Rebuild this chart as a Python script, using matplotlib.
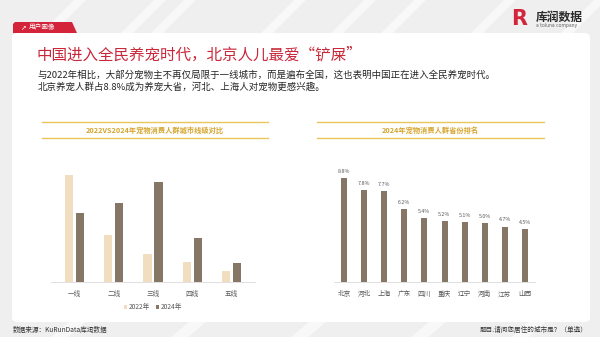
import matplotlib
matplotlib.use("Agg")
import matplotlib.pyplot as plt
from matplotlib.patches import Polygon, FancyBboxPatch
from matplotlib.lines import Line2D

plt.rcParams["font.family"] = ["Noto Sans CJK SC", "DejaVu Sans"]

# data
tiers = ["一线", "二线", "三线", "四线", "五线"]
share_2022 = [32.5, 14.2, 8.5, 6.0, 3.3]
share_2024 = [21.0, 24.0, 30.3, 13.3, 5.8]

provinces = ["北京", "河北", "上海", "广东", "四川", "重庆", "辽宁", "河南", "江苏", "山西"]
province_share = [8.8, 7.8, 7.7, 6.2, 5.4, 5.2, 5.1, 5.0, 4.7, 4.5]

RED = "#C9283A"
GOLD = "#D6A52E"
LINE_GOLD = "#E8C65A"
BROWN = "#857665"
BEIGE = "#F1DDBF"
GREY = "#5A5A5A"

W, H = 600, 337
fig = plt.figure(figsize=(W / 100, H / 100), dpi=100, facecolor="#EFEFEF")


def fx(x):
    return x / W


def fy(y):
    return 1 - y / H


def rect(x0, y0, x1, y1):
    return [fx(x0), fy(y1), fx(x1) - fx(x0), fy(y0) - fy(y1)]


# faint diagonal stripes in the background
for x0 in [40, 150, 260, 380, 470, 560, 120, 330]:
    fig.add_artist(Line2D([fx(x0), fx(x0 + 40)], [fy(40), fy(0)],
                          color="white", lw=6, alpha=0.6, zorder=0))
for x0 in [60, 180, 300, 420, 520]:
    fig.add_artist(Line2D([fx(x0), fx(x0 + 25)], [fy(337), fy(315)],
                          color="white", lw=8, alpha=0.6, zorder=0))

# white card
fig.add_artist(FancyBboxPatch((fx(12), fy(322)), fx(578), fy(0) - fy(289),
                              boxstyle="round,pad=0,rounding_size=0.012",
                              facecolor="white", edgecolor="none", zorder=1))

# red tab
fig.add_artist(Polygon([(fx(13), fy(33)), (fx(13), fy(24)), (fx(15), fy(22)),
                        (fx(72), fy(22)), (fx(77), fy(33))],
                       closed=True, facecolor="#D3243A", edgecolor="none", zorder=2))
fig.text(fx(20), fy(27.5), "➚", color="white", fontsize=5, va="center",
         family=["DejaVu Sans"], zorder=3)
fig.text(fx(29), fy(27.5), "用户画像", color="white", fontsize=4.8, va="center", zorder=3)

# logo
fig.text(fx(511), fy(19), "R", color="#D3243A", fontsize=15, fontweight="bold",
         va="center", ha="left", family=["DejaVu Sans"], zorder=3)
fig.text(fx(536), fy(17), "库润数据", color="#2B2B2B", fontsize=8.5, fontweight="bold",
         va="center", ha="left", zorder=3)
fig.text(fx(536), fy(26), "a toluna company", color="#666666", fontsize=3.3,
         va="center", ha="left", family=["DejaVu Sans"], zorder=3)

# headline
fig.text(fx(37), fy(55), "中国进入全民养宠时代，北京人儿最爱“铲屎”", color=RED,
         fontsize=11.2, va="center", ha="left", zorder=3)
fig.text(fx(38), fy(75), "与2022年相比，大部分宠物主不再仅局限于一线城市，而是遍布全国，这也表明中国正在进入全民养宠时代。",
         color="#262626", fontsize=6.8, va="center", ha="left", zorder=3)
fig.text(fx(38), fy(87), "北京养宠人群占8.8%成为养宠大省，河北、上海人对宠物更感兴趣。",
         color="#262626", fontsize=6.8, va="center", ha="left", zorder=3)

# title bands
for (x0, x1, title) in [(42, 268, "2022VS2024年宠物消费人群城市线级对比"),
                        (317, 544, "2024年宠物消费人群省份排名")]:
    for yy in (122, 138):
        fig.add_artist(Line2D([fx(x0), fx(x1)], [fy(yy), fy(yy)],
                              color=LINE_GOLD, lw=1.0, zorder=3))
    fig.text(fx((x0 + x1) / 2), fy(130), title, color=GOLD, fontsize=5.2,
             fontweight="bold", ha="center", va="center", zorder=3)

# left chart
ax1 = fig.add_axes(rect(51, 150, 255, 282))
ax1.set_zorder(4)
x = range(len(tiers))
ax1.bar([i - 0.14 for i in x], share_2022, width=0.21, color=BEIGE, label="2022年")
ax1.bar([i + 0.14 for i in x], share_2024, width=0.21, color=BROWN, label="2024年")
ax1.set_xlim(-0.6, 4.6)
ax1.set_ylim(0, 40)
ax1.set_xticks(list(x))
ax1.set_xticklabels(tiers)

# right chart
ax2 = fig.add_axes(rect(334, 150, 535, 282))
ax2.set_zorder(4)
xp = range(len(provinces))
ax2.bar(list(xp), province_share, width=0.3, color=BROWN)
for i, v in zip(xp, province_share):
    ax2.text(i, v + 0.35, f"{v:.1f}%", ha="center", va="bottom", fontsize=3.8, color=GREY)
ax2.set_xlim(-0.5, 9.5)
ax2.set_ylim(0, 11.2)
ax2.set_xticks(list(xp))
ax2.set_xticklabels(provinces)

for ax in (ax1, ax2):
    ax.set_facecolor("none")
    for s in ("top", "right", "left"):
        ax.spines[s].set_visible(False)
    ax.spines["bottom"].set_color("#D9D9D9")
    ax.spines["bottom"].set_linewidth(0.6)
    ax.set_yticks([])
    ax.tick_params(axis="x", length=0, pad=6, labelsize=4.8, labelcolor=GREY)

ax1.legend(loc="center", bbox_to_anchor=(0.5, (fy(307) - fy(282)) / (fy(150) - fy(282))),
           ncol=2, frameon=False, fontsize=4.8, labelcolor=GREY,
           handlelength=0.5, handleheight=0.5, handletextpad=0.3, columnspacing=0.8)

# footer
fig.text(fx(13), fy(330), "数据来源：KuRunData库润数据", color="#333333", fontsize=4.8,
         va="center", ha="left", zorder=3)
fig.text(fx(588), fy(330), "题目.请问您居住的城市是？（单选）", color="#333333", fontsize=4.8,
         va="center", ha="right", zorder=3)

fig.savefig("out.png", dpi=100, facecolor=fig.get_facecolor())
